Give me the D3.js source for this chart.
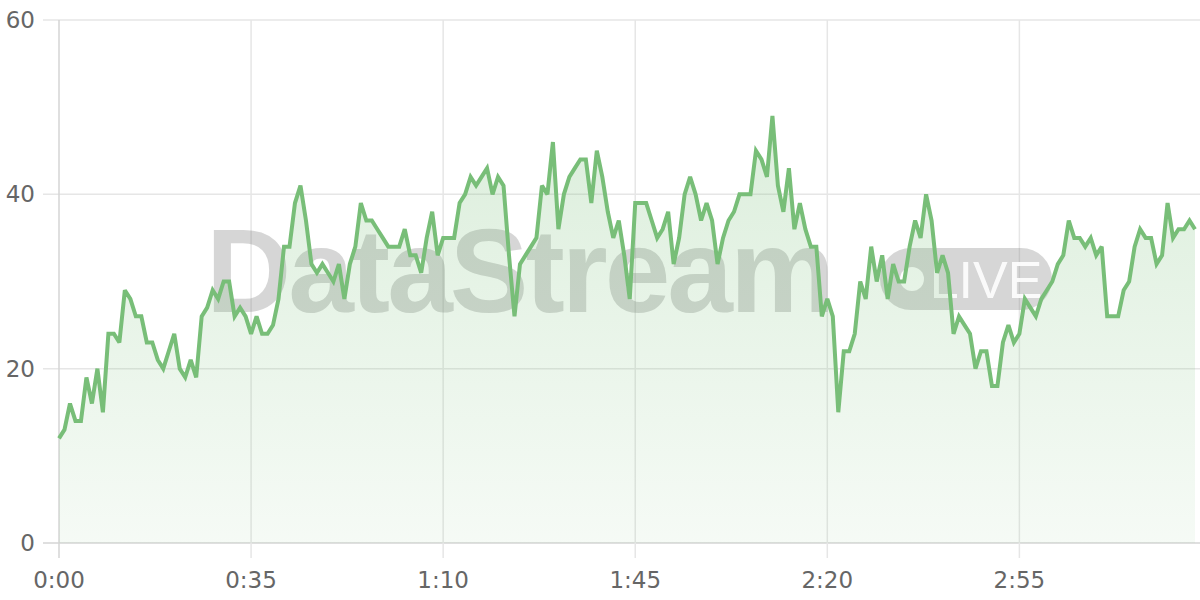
<!DOCTYPE html>
<html>
<head>
<meta charset="utf-8">
<script src="https://cdn.jsdelivr.net/npm/d3@7"></script>
<style>
  html, body { margin: 0; padding: 0; background: #ffffff; }
  svg { display: block; }
</style>
</head>
<body>
<svg id="chart" width="1200" height="600"></svg>
<script>
// ---- data (seconds -> value) ----
const values = [
  12, 13, 16, 14, 14, 19, 16, 20, 15, 24, 24, 23, 29, 28, 26, 26, 23, 23, 21, 20,
  22, 24, 20, 19, 21, 19, 26, 27, 29, 28, 30, 30, 26, 27, 26, 24, 26, 24, 24, 25,
  28, 34, 34, 39, 41, 37, 32, 31, 32, 31, 30, 32, 28, 32, 34, 39, 37, 37, 36, 35,
  34, 34, 34, 36, 33, 33, 31, 35, 38, 33, 35, 35, 35, 39, 40, 42, 41, 42, 43, 40,
  42, 41, 33, 26, 32, 33, 34, 35, 41, 40, 46, 36, 40, 42, 43, 44, 44, 39, 45, 42,
  38, 35, 37, 33, 28, 39, 39, 39, 37, 35, 36, 38, 32, 35, 40, 42, 40, 37, 39, 37,
  32, 35, 37, 38, 40, 40, 40, 45, 44, 42, 49, 41, 38, 43, 36, 39, 36, 34, 34, 26,
  28, 26, 15, 22, 22, 24, 30, 28, 34, 30, 33, 28, 32, 30, 30, 34, 37, 35, 40, 37,
  31, 33, 31, 24, 26, 25, 24, 20, 22, 22, 18, 18, 23, 25, 23, 24, 28, 27, 26, 28,
  29, 30, 32, 33, 37, 35, 35, 34, 35, 33, 34, 26, 26, 26, 29, 30, 34, 36, 35, 35,
  32, 33, 39, 35, 36, 36, 37, 36
];
const seconds = values.map((v, i) => i);
const xTicks = [0, 35, 70, 105, 140, 175];
const yTicks = [0, 20, 40, 60];
const watermarkText = "DataStream";
const badgeText = "LIVE";

const fmt = s => Math.floor(s / 60) + ":" + String(s % 60).padStart(2, "0");

const svg = d3.select("#chart");
const x = d3.scaleLinear().domain([0, 207]).range([59, 1195]);
const y = d3.scaleLinear().domain([0, 60]).range([543, 20]);

const defs = svg.append("defs");
const grad = defs.append("linearGradient")
  .attr("id", "fillGrad").attr("gradientUnits", "userSpaceOnUse")
  .attr("x1", 0).attr("x2", 0).attr("y1", y(50)).attr("y2", y(0));
grad.append("stop").attr("offset", "0%").attr("stop-color", "rgb(118,190,118)").attr("stop-opacity", 0.26);
grad.append("stop").attr("offset", "100%").attr("stop-color", "rgb(118,190,118)").attr("stop-opacity", 0.07);

// grid
const grid = svg.append("g");
grid.selectAll("line.h").data(yTicks).join("line")
  .attr("x1", 43).attr("x2", 1200)
  .attr("y1", d => y(d)).attr("y2", d => y(d))
  .attr("stroke", d => d === 0 ? "#d4d4d4" : "#e6e6e6").attr("stroke-width", 1.5);
grid.selectAll("line.v").data(xTicks).join("line")
  .attr("y1", 20).attr("y2", 558)
  .attr("x1", d => x(d)).attr("x2", d => x(d))
  .attr("stroke", d => d === 0 ? "#d4d4d4" : "#e6e6e6").attr("stroke-width", 1.5);

// watermark (under the fill so it picks up the green tint)
const wm = svg.append("g").attr("opacity", 0.3);
wm.append("text").attr("x", 206).attr("y", 312)
  .attr("font-family", "Liberation Sans, Arial, sans-serif").attr("font-weight", "bold")
  .attr("font-size", 118).attr("letter-spacing", -3).attr("fill", "#7a7a7a").text(watermarkText);
wm.append("rect").attr("x", 880).attr("y", 248).attr("width", 172).attr("height", 62)
  .attr("rx", 31).attr("fill", "#7a7a7a");
wm.append("circle").attr("cx", 912).attr("cy", 279).attr("r", 12).attr("fill", "#ffffff");
svg.append("text").attr("x", 986).attr("y", 298).attr("text-anchor", "middle")
  .attr("font-family", "Liberation Sans, Arial, sans-serif")
  .attr("font-size", 52).attr("fill", "#ffffff").attr("opacity", 0.9).text(badgeText);

// area
const area = d3.area().x((d, i) => x(seconds[i])).y0(y(0)).y1(d => y(d));
svg.append("path").datum(values).attr("d", area).attr("fill", "url(#fillGrad)");

// line
const line = d3.line().x((d, i) => x(seconds[i])).y(d => y(d));
svg.append("path").datum(values).attr("d", line)
  .attr("fill", "none").attr("stroke", "rgb(120,190,120)").attr("stroke-width", 4)
  .attr("stroke-linejoin", "miter").attr("stroke-miterlimit", 3);

// labels
svg.append("g").selectAll("text").data(yTicks).join("text")
  .attr("x", 35).attr("y", d => y(d) + 8).attr("text-anchor", "end")
  .attr("font-family", "DejaVu Sans, sans-serif").attr("font-size", 23).attr("fill", "#666")
  .text(d => d);
svg.append("g").selectAll("text").data(xTicks).join("text")
  .attr("x", d => x(d)).attr("y", 588).attr("text-anchor", "middle")
  .attr("font-family", "DejaVu Sans, sans-serif").attr("font-size", 23).attr("fill", "#666")
  .text(d => fmt(d));
</script>
</body>
</html>
